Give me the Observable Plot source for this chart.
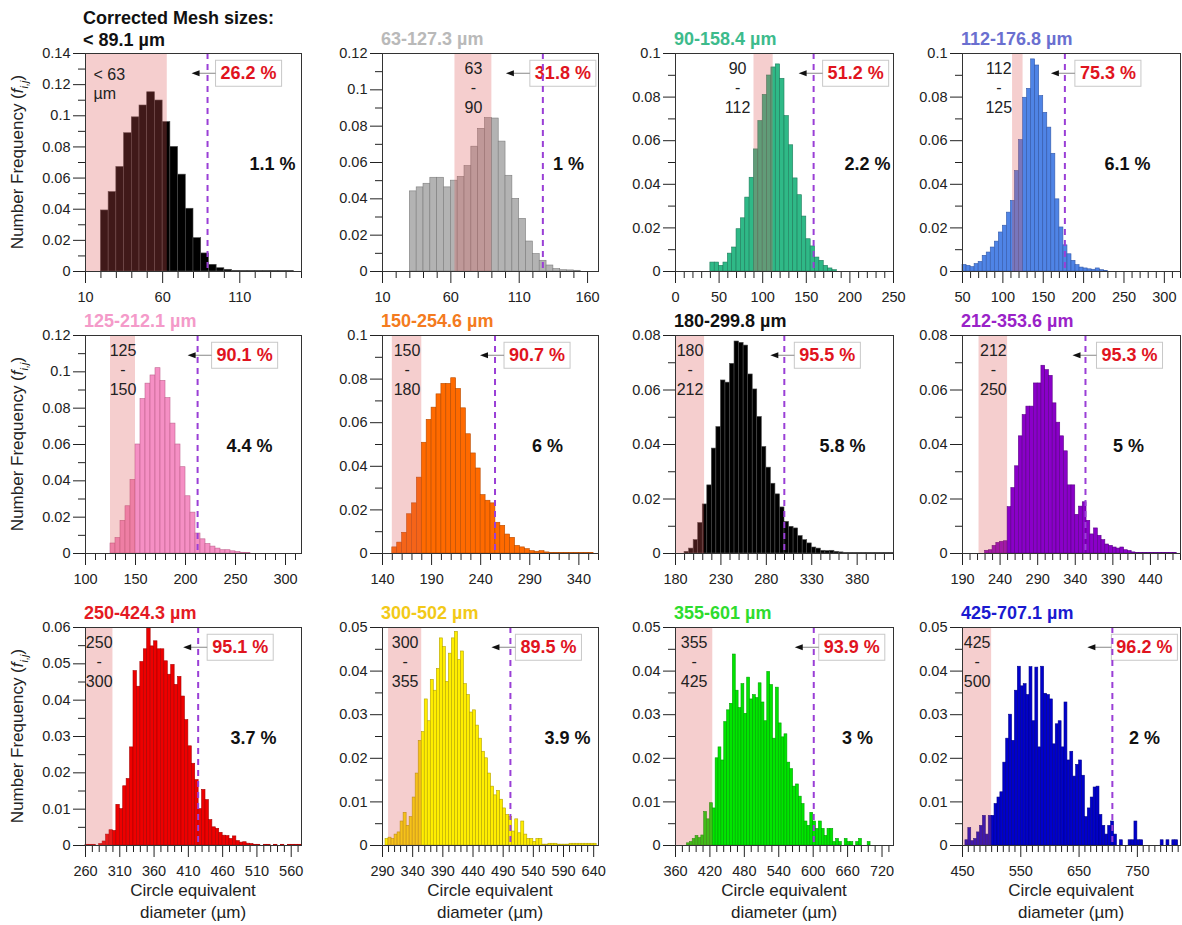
<!DOCTYPE html>
<html><head><meta charset="utf-8">
<script src="https://cdn.jsdelivr.net/npm/d3@7"></script>
<script src="https://cdn.jsdelivr.net/npm/@observablehq/plot@0.6"></script>
<style>
body{margin:0;background:#fff;font-family:Arial,"Liberation Sans",sans-serif;}
#wrap{position:relative;width:1182px;height:925px;overflow:hidden;background:#fff;}
.ttl{position:absolute;font-weight:bold;font-size:18px;white-space:pre;line-height:22px;}
.ylab{position:absolute;font-size:17px;white-space:nowrap;color:#222;transform:translate(-50%,-50%) rotate(-90deg);}
.ylab sub{font-size:11px;font-style:italic;}
.xlab{position:absolute;font-size:17px;text-align:center;line-height:22px;color:#222;transform:translateX(-50%);white-space:nowrap;}
</style></head><body><div id="wrap"></div>
<script>
// ---------- data ----------
const titles = ["Corrected Mesh sizes:\n< 89.1 µm","63-127.3 µm","90-158.4 µm","112-176.8 µm","125-212.1 µm","150-254.6 µm","180-299.8 µm","212-353.6 µm","250-424.3 µm","300-502 µm","355-601 µm","425-707.1 µm"];
const meshLow  = [null,63,90,112,125,150,180,212,250,300,355,425];
const meshHigh = [63,90,112,125,150,180,212,250,300,355,425,500];
const cutoffs  = [89.1,127.3,158.4,176.8,212.1,254.6,299.8,353.6,424.3,502,601,707.1];
const passPct  = ["26.2 %","31.8 %","51.2 %","75.3 %","90.1 %","90.7 %","95.5 %","95.3 %","95.1 %","89.5 %","93.9 %","96.2 %"];
const sidePct  = ["1.1 %","1 %","2.2 %","6.1 %","4.4 %","6 %","5.8 %","5 %","3.7 %","3.9 %","3 %","2 %"];
const binStart = [20,30,40,50,125,150,190,220,260,295,380,455];
const binWidth = 5;
const freq01 = [0.0392,0.051,0.0671,0.0888,0.099,0.1066,0.1151,0.1098,0.096,0.08,0.0622,0.0403,0.0214,0.0116,0.0043,0.0021,0.0011,0.0004,0.0002,0.0002,0.0002,0.0002,0.0002,0.0002,0.0002];
const freq02 = [0.0441,0.0463,0.0483,0.0516,0.0516,0.0463,0.05,0.052,0.058,0.0687,0.0785,0.0844,0.0842,0.0715,0.0527,0.04,0.029,0.0165,0.0096,0.0059,0.0033,0.0013,0.0007,0.0006,0.0004];
const freq03 = [0.0041,0.0041,0.0026,0.0041,0.0082,0.011,0.0194,0.0244,0.0339,0.043,0.056,0.069,0.081,0.0899,0.0936,0.095,0.0884,0.0713,0.0579,0.0427,0.035,0.0252,0.0148,0.0115,0.0064,0.0049,0.0026,0.0014,0.0006];
const freq04 = [0.003,0.0026,0.002,0.0034,0.0044,0.0072,0.0087,0.011,0.0137,0.0179,0.021,0.027,0.0324,0.0461,0.0603,0.0797,0.0838,0.0973,0.0945,0.0805,0.0728,0.066,0.054,0.0331,0.0202,0.012,0.0079,0.0049,0.0029,0.0018,0.0014,0.001,0.0008,0.0014,0.0006,0.0002];
const freq05 = [0.0055,0.0085,0.018,0.026,0.0405,0.06,0.085,0.0935,0.098,0.102,0.095,0.0855,0.0715,0.06,0.0475,0.0315,0.0225,0.011,0.0078,0.0052,0.0038,0.0027,0.0018,0.0018,0.0012,0.0008,0.0004,0.0002];
const freq06 = [0.0028,0.005,0.0095,0.018,0.023,0.0348,0.0508,0.0613,0.0669,0.073,0.0778,0.0778,0.0804,0.0755,0.0666,0.0547,0.0459,0.039,0.0268,0.0242,0.023,0.0141,0.0127,0.0087,0.0072,0.0035,0.0028,0.002,0.0011,0.0008,0.0011,0.0005,0.0002,0.0002,0.0002,0.0002,0.0002,0.0002,0.0002,0.0002,0.0002];
const freq07 = [0.0006,0.0018,0.0049,0.0112,0.018,0.025,0.0385,0.0464,0.0635,0.0627,0.0696,0.0778,0.0773,0.0763,0.0657,0.0602,0.0501,0.0391,0.0315,0.0256,0.0217,0.0169,0.0116,0.0098,0.0092,0.0064,0.0049,0.0037,0.0022,0.0018,0.001,0.0009,0.001,0.0006,0.0004,0.0002,0.0002,0.0002,0.0002,0.0002,0.0002,0.0002,0.0002,0.0002,0.0002,0.0002];
const freq08 = [0.001,0.0012,0.0028,0.0039,0.0043,0.0045,0.017,0.024,0.032,0.043,0.0508,0.0539,0.0539,0.0624,0.0624,0.0689,0.0673,0.0652,0.0551,0.048,0.043,0.0375,0.025,0.025,0.0142,0.0172,0.0188,0.012,0.007,0.0092,0.0065,0.0049,0.0033,0.0028,0.0022,0.0018,0.0022,0.0012,0.0009,0.0004,0.0002,0.0002,0.0002,0.0002,0.0002,0.0002,0.0002,0.0002,0.0002,0.0002,0.0002];
const freq09 = [0.0002,0.0002,0.0002,0,0.0004,0.0011,0.003,0.0042,0.004,0.0112,0.01,0.0163,0.0183,0.027,0.048,0.0437,0.0505,0.054,0.0597,0.0548,0.0562,0.054,0.054,0.0507,0.047,0.0497,0.0442,0.0464,0.041,0.0345,0.0273,0.0225,0.018,0.01,0.0153,0.0125,0.007,0.005,0.0046,0.0035,0.0027,0.0026,0.0018,0.0025,0.0012,0.0008,0.0009,0.0005,0.0004,0.0002,0.0002,0,0.0002,0.0002,0,0.0002,0,0.0002,0,0.0002,0.0002,0.0002,0.0002];
const freq10 = [0.0015,0.0018,0.0015,0.0025,0.003,0.0055,0.0075,0.0045,0.0065,0.011,0.0165,0.024,0.026,0.0335,0.0285,0.038,0.0355,0.0405,0.0475,0.0455,0.0375,0.044,0.0475,0.049,0.0425,0.0445,0.037,0.0345,0.0305,0.031,0.0275,0.0245,0.0215,0.02,0.0165,0.0135,0.0115,0.0125,0.0105,0.0085,0.007,0.0065,0.0032,0.006,0.0028,0.0055,0.0025,0.0015,0.0015,0.0008,0.0015,0.0015,0.0002,0.0002,0.0004,0.0004,0.0004,0.0002,0.0002,0.0002,0.0002,0.0004,0.0004,0.0004,0.0004,0.0004,0.0004,0.0004,0.0004,0.0004];
const freq11 = [0.0005,0.0008,0.0015,0.0022,0.0017,0.0023,0.0077,0.006,0.0097,0.0085,0.02,0.0225,0.0195,0.0283,0.031,0.0325,0.0438,0.0355,0.0315,0.037,0.0302,0.0385,0.0335,0.0345,0.0338,0.0372,0.0328,0.0285,0.0398,0.0368,0.0245,0.0362,0.028,0.0248,0.0255,0.019,0.0175,0.0135,0.014,0.0112,0.0095,0.0055,0.0045,0.0075,0.0055,0.0038,0.0055,0.0038,0.0022,0.0038,0.0038,0.0008,0.0015,0.0008,0,0.0015,0.0008,0.0008,0,0.0008,0.0015,0,0,0.0008];
const freq12 = [0.0012,0.004,0.001,0.0015,0.003,0.0045,0.0068,0.0025,0.0068,0.0068,0.0095,0.011,0.0122,0.019,0.0245,0.03,0.024,0.0355,0.041,0.0365,0.037,0.0345,0.0409,0.0285,0.0408,0.0225,0.041,0.0348,0.0345,0.0335,0.0232,0.0278,0.0285,0.0225,0.0328,0.0195,0.0215,0.0158,0.0185,0.0195,0.016,0.0065,0.0085,0.011,0.0133,0.0135,0.007,0.0045,0.0025,0.0045,0.0055,0.0025,0,0.0012,0,0,0.0012,0.0012,0.0055,0.0012,0.0012,0,0,0,0,0,0,0.0012,0,0.0012,0,0.0012,0.0012];
const freqs = [freq01,freq02,freq03,freq04,freq05,freq06,freq07,freq08,freq09,freq10,freq11,freq12];
const xDomains = [[10,150],[10,168],[0,250],[50,320],[100,316],[140,360],[180,420],[190,480],[260,575],[290,648],[360,740],[450,824]];
const xMajor = [[10,60,110],[10,60,110,160],[0,50,100,150,200,250],[50,100,150,200,250,300],[100,150,200,250,300],[140,190,240,290,340],[180,230,280,330,380],[190,240,290,340,390,440],[260,310,360,410,460,510,560],[290,340,390,440,490,540,590,640],[360,420,480,540,600,660,720],[450,550,650,750]];
const xMinorStep = [10,10,10,10,10,10,10,10,10,10,12,10];
const yMax  = [0.14,0.12,0.1,0.1,0.12,0.1,0.08,0.08,0.06,0.05,0.05,0.05];
const yStep = [0.02,0.02,0.02,0.02,0.02,0.02,0.02,0.02,0.01,0.01,0.01,0.01];

// ---------- styles / layout ----------
const titleColors = ["#111","#b9b9b9","#3dbb8c","#6a6fd0","#f49ac9","#f47b20","#111","#9a22c8","#e41b23","#f2c918","#2edc2e","#1a1ad0"];
const barColors   = ["#000000","#b3b3b3","#2fb987","#4f84e6","#f58fc4","#ff6a00","#000000","#8a00c8","#ee0000","#ffee00","#00e600","#0000cc"];
const barStrokes  = ["#4a4a4a","#7d7d7d","#1f7d5c","#3459a8","#c0648f","#b84c00","#4a4a4a","#5a0086","#a80000","#b5a300","#00a000","#00008a"];
const PCT_RED = "#e0141e";
const pctDx  = [13,-8,14,15,19,14,15,16,14,10,10,4];
const sideDx = [187,186,192,165,164,165,167,166,168,185,182,182];
const bandDx = [8,0,-26,-19,0,0,0,0,0,0,0,0];
const colLeft = [85,382,675,962], colW = [216,216,218,218], rowTop = [53,335,627], FH = 218;
const ML = 55, MR = 8, MT = 8, MB = 34;

const wrap = document.getElementById("wrap");
const fmtY = d => String(+d.toFixed(4));
const ns = "http://www.w3.org/2000/svg";

function addBox(svg){
  let g = svg.querySelector('g[aria-description="pct-box"]');
  if (!g) g = [...svg.querySelectorAll("g")].find(e => e.getAttribute("fill") === PCT_RED);
  if (!g) return;
  const t = g.querySelector("text");
  const bb = t.getBBox();
  const tr = t.getAttribute("transform");
  const px = 5, py = 3;
  const rect = document.createElementNS(ns,"rect");
  rect.setAttribute("x", bb.x - px); rect.setAttribute("y", bb.y - py);
  rect.setAttribute("width", bb.width + 2*px); rect.setAttribute("height", bb.height + 2*py);
  rect.setAttribute("fill", "#fff"); rect.setAttribute("stroke", "#c8c8c8"); rect.setAttribute("stroke-width", "1");
  if (tr) rect.setAttribute("transform", tr);
  g.insertBefore(rect, t);
  const ax = bb.x - px, ay = bb.y + bb.height/2;
  const ln = document.createElementNS(ns,"line");
  ln.setAttribute("x1", ax); ln.setAttribute("x2", ax - 20); ln.setAttribute("y1", ay); ln.setAttribute("y2", ay);
  ln.setAttribute("stroke", "#888"); ln.setAttribute("stroke-width", "1");
  if (tr) ln.setAttribute("transform", tr);
  g.appendChild(ln);
  const ah = document.createElementNS(ns,"path");
  ah.setAttribute("d", `M${ax-24},${ay}L${ax-16},${ay-3}L${ax-16},${ay+3}Z`);
  ah.setAttribute("fill", "#111"); ah.setAttribute("stroke", "none");
  if (tr) ah.setAttribute("transform", tr);
  g.appendChild(ah);
}

for (let i = 0; i < 12; i++) {
  const r = Math.floor(i/4), c = i % 4;
  const fw = colW[c];
  const [x0, x1] = xDomains[i];
  const bins = freqs[i].map((f,k) => ({a: binStart[i] + k*binWidth, b: binStart[i] + (k+1)*binWidth, f}));
  const lo = Math.max(meshLow[i] ?? x0, x0), hi = meshHigh[i];
  const band = [{a: lo, b: hi, c: (lo+hi)/2, t: meshLow[i] == null ? `< ${hi}\nµm` : `${meshLow[i]}\n-\n${hi}`}];
  const nY = Math.round(yMax[i]/yStep[i]);
  const yMaj = d3.range(nY+1).map(k => +(k*yStep[i]).toFixed(4));
  const yMin = d3.range(nY).map(k => +((k+0.5)*yStep[i]).toFixed(4));
  const xMin = d3.range(x0, x1 + 1e-9, xMinorStep[i]).filter(v => !xMajor[i].includes(v));
  const isFirst = meshLow[i] == null;
  const svg = Plot.plot({
    width: ML + fw + MR, height: MT + FH + MB,
    marginLeft: ML, marginRight: MR, marginTop: MT, marginBottom: MB,
    style: "background:transparent;overflow:visible;font-family:Arial,'Liberation Sans',sans-serif;font-size:14.5px;color:#222;",
    x: {domain: xDomains[i], label: null},
    y: {domain: [0, yMax[i]], label: null},
    marks: [
      Plot.rect(bins, {x1: "a", x2: "b", y1: 0, y2: "f", fill: barColors[i], stroke: barStrokes[i], strokeWidth: 0.6}),
      Plot.rect(band, {x1: "a", x2: "b", fill: "rgb(220,86,86)", fillOpacity: 0.29}),
      Plot.text(band, {x: isFirst ? () => x0 : "c", text: "t", frameAnchor: "top", lineAnchor: "top",
        textAnchor: isFirst ? "start" : "middle", dx: bandDx[i], dy: isFirst ? 13 : 7, lineHeight: 1.2, fontSize: 16, fill: "#222"}),
      Plot.text([{x: cutoffs[i], t: passPct[i]}], {x: "x", text: "t", frameAnchor: "top", lineAnchor: "middle", textAnchor: "start",
        dx: pctDx[i], dy: 20, fill: PCT_RED, fontWeight: "bold", fontSize: 18, ariaDescription: "pct-box"}),
      Plot.ruleX([cutoffs[i]], {stroke: "#9a3fd6", strokeWidth: 2, strokeDasharray: "6,5"}),
      Plot.text([sidePct[i]], {text: d => d, frameAnchor: "left", textAnchor: "middle", dx: sideDx[i], dy: 2,
        fill: "#111", fontWeight: "bold", fontSize: 18}),
      Plot.axisY(yMaj, {tickSize: 12, tickPadding: 3, tickFormat: fmtY, label: null}),
      Plot.axisY(yMin, {tickSize: 7, tickFormat: () => "", label: null}),
      Plot.axisX(xMajor[i], {tickSize: 12, tickPadding: 8, tickFormat: d => String(d), label: null}),
      Plot.axisX(xMin, {tickSize: 7, tickFormat: () => "", label: null}),
      Plot.frame({stroke: "#333", strokeWidth: 1})
    ]
  });
  svg.style.position = "absolute";
  svg.style.left = (colLeft[c] - ML) + "px";
  svg.style.top = (rowTop[r] - MT) + "px";
  svg.style.maxWidth = "none";
  wrap.appendChild(svg);
  addBox(svg);

  const t = document.createElement("div");
  t.className = "ttl";
  t.style.color = titleColors[i];
  t.textContent = titles[i];
  if (isFirst) { t.style.left = (colLeft[c] - 2) + "px"; t.style.top = "7px"; }
  else { t.style.left = (colLeft[c] - 1) + "px"; t.style.top = (rowTop[r] - 25) + "px"; }
  wrap.appendChild(t);
}
for (let r = 0; r < 3; r++) {
  const d = document.createElement("div");
  d.className = "ylab";
  d.style.left = "19px"; d.style.top = (rowTop[r] + FH/2) + "px";
  d.innerHTML = "Number Frequency (<i>f</i><sub>i,j</sub>)";
  wrap.appendChild(d);
}
for (let c = 0; c < 4; c++) {
  const d = document.createElement("div");
  d.className = "xlab";
  d.style.left = (colLeft[c] + colW[c]/2) + "px"; d.style.top = "880px";
  d.innerHTML = "Circle equivalent<br>diameter (µm)";
  wrap.appendChild(d);
}
</script></body></html>
